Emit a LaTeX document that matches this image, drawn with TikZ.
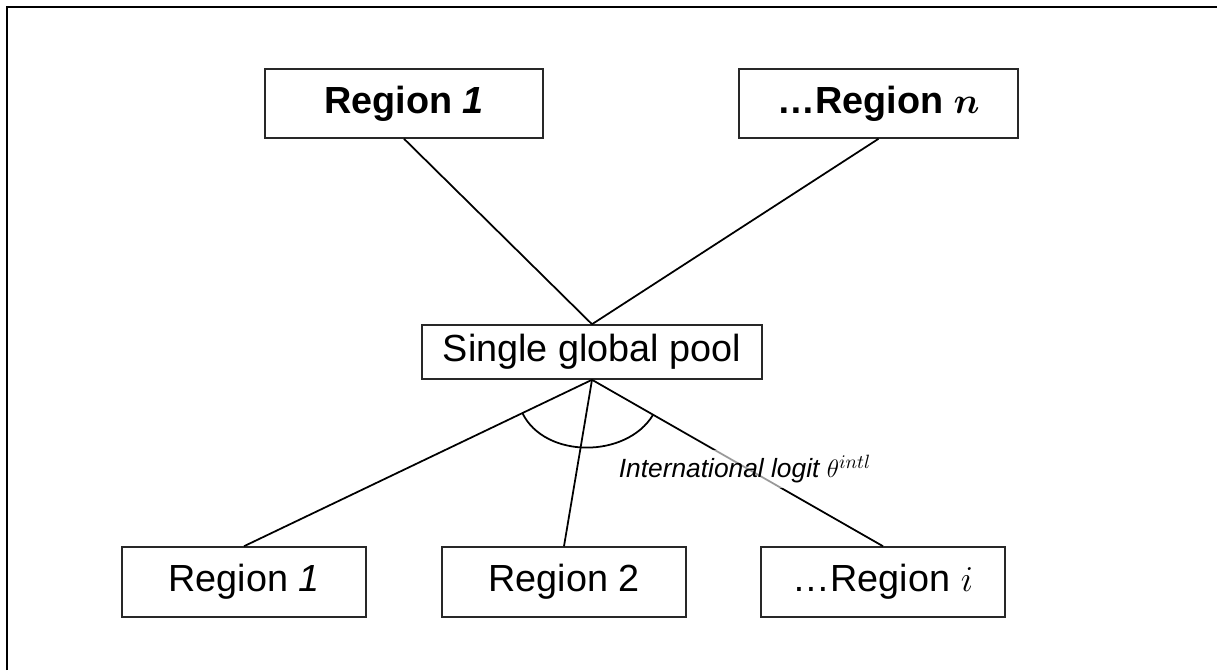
\documentclass[tikz,border=0pt]{standalone}
\usepackage{amsmath}
\usepackage{fontspec}
\setmainfont{Liberation Sans}
\usepackage{tikz}
\usetikzlibrary{calc}
\definecolor{boxline}{RGB}{40, 40, 40}
\tikzset{
    regionbox/.style={shape=rectangle,
                      draw=boxline,
                      line width=0.9pt,
                      fill=white,
                      text=black,
                      inner sep=0pt,
                      minimum width=4.88cm,
                      minimum height=1.4cm,
                      font=\fontsize{21.5}{26}\selectfont},
    topbox/.style={regionbox,
                   minimum width=5.57cm,
                   minimum height=1.38cm,
                   font=\fontsize{21.5}{26}\selectfont\bfseries},
    poolbox/.style={regionbox,
                    minimum width=6.8cm,
                    minimum height=1.08cm},
    link/.style={draw=black, line width=1pt}
}

\begin{document}
\begin{tikzpicture}[x=0.02cm, y=-0.02cm]
        \useasboundingbox (0,0) rectangle (1217,670);
        % frame, cut by the page on the right and at the bottom
        \draw[line width=1.2pt] (7,670) |- (1217,7);

        % upper level
        \node[topbox] (topone) at (404,103.5) {Region \textit{1}};
        \node[topbox] (topn) at (878.5,103.5) {\textellipsis Region $\boldsymbol{n}$};

        \node[poolbox] (pool) at (592,352) {Single global pool};

        % lower level
        \node[regionbox] (regone) at (244,582) {Region \textit{1}};
        \node[regionbox] (regtwo) at (564,582) {Region 2};
        \node[regionbox] (regi) at (883,582) {\textellipsis Region $i$};

        \draw[link] (topone.south) -- (pool.north);
        \draw[link] (topn.south) -- (pool.north);
        \draw[link] (pool.south) -- (regone.north);
        \draw[link] (pool.south) -- (regtwo.north);
        \draw[link] (pool.south) -- (regi.north);

        % angle between the lower links
        \coordinate (arcl) at ($(pool.south)!0.2!(regone.north)$);
        \coordinate (arcr) at ($(pool.south)!0.21!(regi.north)$);
        \draw[link] (arcl) to[out=-64, in=-121] (arcr);

        \node[fill=white,
              fill opacity=0.6,
              text opacity=1,
              inner sep=3pt,
              font=\fontsize{15}{18}\selectfont\itshape] (logit) at (745,469)
              {International logit $\theta^{intl}$};
    \end{tikzpicture}
\end{document}
